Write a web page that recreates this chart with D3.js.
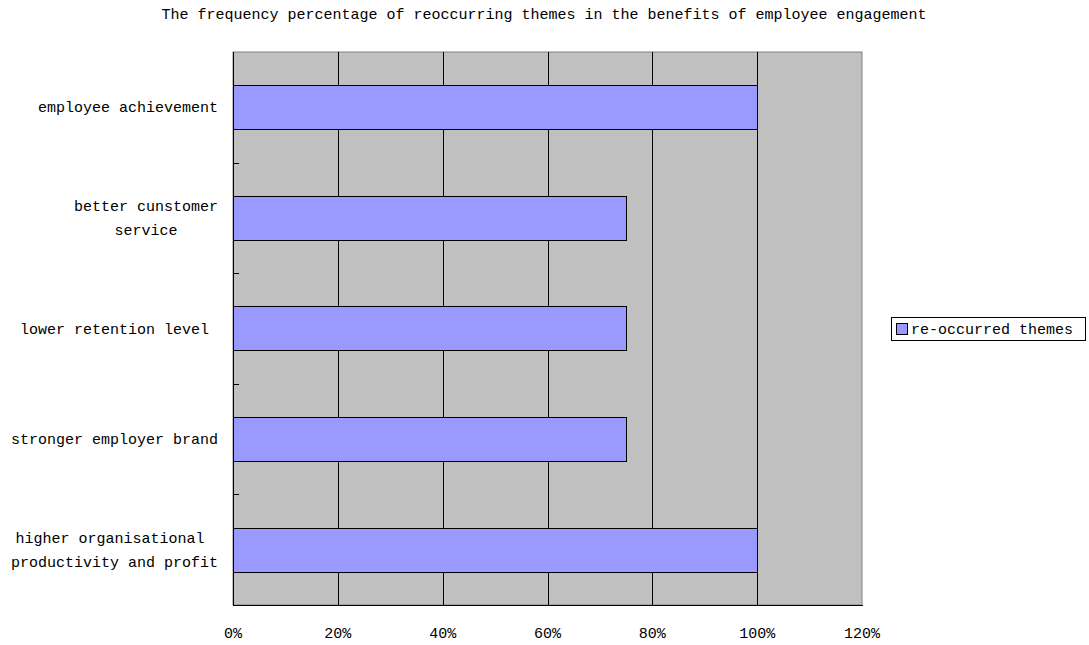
<!DOCTYPE html>
<html><head><meta charset="utf-8">
<script src="https://cdn.jsdelivr.net/npm/d3@7"></script>
<style>
body{margin:0;background:#fff;}
text{font-family:"Liberation Mono",monospace;font-size:15px;fill:#000;}
</style></head>
<body>
<svg id="c" width="1089" height="645"></svg>
<script>
const title = "The frequency percentage of reoccurring themes in the benefits of employee engagement";
const categories = [
  ["employee achievement"],
  ["better cunstomer","service"],
  ["lower retention level "],
  ["stronger employer brand"],
  ["higher organisational ","productivity and profit"]
];
const values = [1.00, 0.75, 0.75, 0.75, 1.00];
const xTicks = [0, 0.2, 0.4, 0.6, 0.8, 1.0, 1.2];
const seriesName = "re-occurred themes";

const svg = d3.select("#c");
const L = 233, R = 862, T = 52, B = 605;
const x = d3.scaleLinear().domain([0, 1.2]).range([L, R]);
const y = d3.scaleBand().domain(d3.range(categories.length)).range([T, B]).paddingInner(0).paddingOuter(0);

svg.append("rect").attr("x", L).attr("y", T).attr("width", R - L).attr("height", B - T)
  .attr("fill", "#C0C0C0").attr("stroke", "#808080").attr("stroke-width", 1);

// gridlines
svg.append("g").selectAll("line").data(xTicks.filter(d => d > 0 && d < 1.2)).join("line")
  .attr("x1", d => Math.round(x(d)) + 0.5).attr("x2", d => Math.round(x(d)) + 0.5)
  .attr("y1", T).attr("y2", B).attr("stroke", "#000").attr("stroke-width", 1);

// bars
const bh = y.bandwidth() * 0.4;
svg.append("g").selectAll("rect").data(values).join("rect")
  .attr("x", L + 0.5)
  .attr("y", (d, i) => Math.round(y(i) + (y.bandwidth() - bh) / 2) + 0.5)
  .attr("width", d => Math.round(x(d) - L))
  .attr("height", Math.round(bh))
  .attr("fill", "#9999FF").attr("stroke", "#000").attr("stroke-width", 1);

// axes lines
svg.append("line").attr("x1", L + 0.5).attr("x2", L + 0.5).attr("y1", T).attr("y2", B + 1).attr("stroke", "#000");
svg.append("line").attr("x1", L).attr("x2", R + 1).attr("y1", B + 0.5).attr("y2", B + 0.5).attr("stroke", "#000");

// y ticks at category boundaries (inside)
svg.append("g").selectAll("line").data(d3.range(1, categories.length)).join("line")
  .attr("x1", L).attr("x2", L + 6)
  .attr("y1", i => Math.round(y(i)) + 0.5).attr("y2", i => Math.round(y(i)) + 0.5)
  .attr("stroke", "#000");

// x tick labels
svg.append("g").selectAll("text").data(xTicks).join("text")
  .attr("x", d => x(d)).attr("y", 638).attr("text-anchor", "middle")
  .text(d => Math.round(d * 100) + "%");

// category labels
const lineH = 24;
categories.forEach((lines, i) => {
  const g = svg.append("g");
  const cy = y(i) + y.bandwidth() / 2;
  const ts = lines.map((ln, k) => g.append("text")
    .attr("xml:space", "preserve").style("white-space", "pre")
    .attr("y", cy + (k - (lines.length - 1) / 2) * lineH + 5)
    .attr("text-anchor", "middle").text(ln));
  const maxW = d3.max(ts, t => t.node().getComputedTextLength());
  ts.forEach(t => t.attr("x", 218 - maxW / 2));
});

// title
svg.append("text").attr("x", 544).attr("y", 19).attr("text-anchor", "middle").text(title);

// legend
const lg = svg.append("g");
lg.append("rect").attr("x", 891.5).attr("y", 317.5).attr("width", 194).attr("height", 23)
  .attr("fill", "#fff").attr("stroke", "#000");
lg.append("rect").attr("x", 896.5).attr("y", 323.5).attr("width", 11).attr("height", 11)
  .attr("fill", "#9999FF").attr("stroke", "#000");
lg.append("text").attr("x", 911).attr("y", 334).text(seriesName);
</script>
</body></html>
